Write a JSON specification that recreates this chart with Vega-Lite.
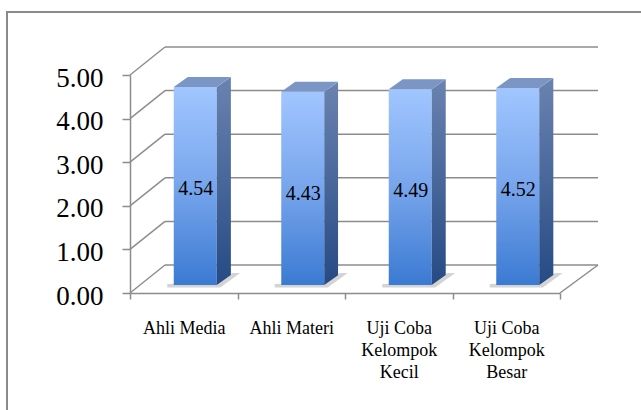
{
  "$schema": "https://vega.github.io/schema/vega-lite/v6.json",
  "width": 638,
  "height": 402,
  "autosize": {"type": "none"},
  "padding": {"left": 7, "top": 12, "right": -4, "bottom": -4},
  "background": "white",
  "config": {
    "view": {"stroke": "#8a8a8a", "strokeWidth": 2},
    "font": "Liberation Serif"
  },
  "datasets": {
    "scores": [
      {"kategori": "Ahli Media", "nilai": 4.54},
      {"kategori": "Ahli Materi", "nilai": 4.43},
      {"kategori": "Uji Coba Kelompok Kecil", "nilai": 4.49},
      {"kategori": "Uji Coba Kelompok Besar", "nilai": 4.52}
    ],
    "grid": [{"v": 0}, {"v": 1}, {"v": 2}, {"v": 3}, {"v": 4}, {"v": 5}]
  },
  "layer": [
    {
      "data": {"name": "scores"},
      "mark": {"type": "bar", "width": 43, "xOffset": 11.5, "yOffset": -8, "y2Offset": -8, "opacity": 0},
      "encoding": {
        "x": {
          "field": "kategori", "type": "nominal", "sort": null,
          "scale": {"type": "band", "domain": ["Ahli Media", "Ahli Materi", "Uji Coba Kelompok Kecil", "Uji Coba Kelompok Besar"], "range": [123, 553], "paddingInner": 0, "paddingOuter": 0},
          "axis": {
            "orient": "bottom", "offset": -121, "title": null, "tickBand": "extent",
            "labelAngle": 0, "labelFont": "Liberation Serif", "labelFontSize": 18, "labelColor": "#000000",
            "labelLineHeight": 22, "labelPadding": 20, "labelOverlap": false, "labelLimit": 0,
            "labelExpr": "split(replace(datum.label, ' Kelompok ', '|Kelompok|'), '|')",
            "tickSize": 6, "tickColor": "#8c8c8c", "tickWidth": 1.5,
            "domainColor": "#8c8c8c", "domainWidth": 1.5, "grid": false
          }
        },
        "y": {
          "field": "nilai", "type": "quantitative",
          "scale": {"domain": [0, 5], "range": [281, 63], "nice": false, "zero": true},
          "axis": {
            "orient": "left", "offset": -123, "title": null, "values": [0, 1, 2, 3, 4, 5], "format": ".2f",
            "labelFont": "Liberation Serif", "labelFontSize": 27, "labelColor": "#000000",
            "labelPadding": 19, "labelOffset": 3, "labelAlign": "right",
            "tickSize": 8, "tickColor": "#8c8c8c", "tickWidth": 1.5,
            "domainColor": "#8c8c8c", "domainWidth": 1.5, "grid": false
          }
        }
      }
    },
    {
      "data": {"name": "grid"},
      "mark": {"type": "rule", "color": "#8c8c8c", "strokeWidth": 1.5, "xOffset": 35, "x2Offset": 38, "yOffset": -28, "y2Offset": -28},
      "encoding": {
        "x": {"datum": "Ahli Media", "type": "nominal", "bandPosition": 0},
        "x2": {"datum": "Uji Coba Kelompok Besar", "bandPosition": 1},
        "y": {"field": "v", "type": "quantitative"},
        "y2": {"field": "v"}
      }
    },
    {
      "data": {"name": "grid"},
      "mark": {"type": "rule", "color": "#8c8c8c", "strokeWidth": 1.5, "x2Offset": 35, "y2Offset": -28},
      "encoding": {
        "x": {"datum": "Ahli Media", "type": "nominal", "bandPosition": 0},
        "x2": {"datum": "Ahli Media", "bandPosition": 0},
        "y": {"field": "v", "type": "quantitative"},
        "y2": {"field": "v"}
      }
    },
    {
      "data": {"name": "grid"},
      "transform": [{"filter": "datum.v == 0"}],
      "mark": {"type": "rule", "color": "#8c8c8c", "strokeWidth": 1.5, "x2Offset": 38, "y2Offset": -28},
      "encoding": {
        "x": {"datum": "Uji Coba Kelompok Besar", "type": "nominal", "bandPosition": 1},
        "x2": {"datum": "Uji Coba Kelompok Besar", "bandPosition": 1},
        "y": {"field": "v", "type": "quantitative"},
        "y2": {"field": "v"}
      }
    },
    {
      "data": {"name": "scores"},
      "mark": {"type": "point", "filled": true, "opacity": 0.55, "strokeWidth": 0, "size": 4, "xOffset": 11.5, "yOffset": -8, "fill": "#b0b0b0",
        "shape": "M-28,2.5L25,2.5L45,-12L37,-12L24,-3L-28,-1Z"},
      "encoding": {
        "x": {"field": "kategori", "type": "nominal"},
        "y": {"datum": 0, "type": "quantitative"}
      }
    },
    {
      "data": {"name": "scores"},
      "mark": {"type": "bar", "width": 43, "xOffset": 11.5, "yOffset": -8, "y2Offset": -8, "opacity": 1,
        "fill": {"gradient": "linear", "x1": 0, "y1": 0, "x2": 0, "y2": 1,
          "stops": [{"offset": 0, "color": "#a1c6ff"}, {"offset": 0.5, "color": "#77a5ec"}, {"offset": 1, "color": "#3b7ad2"}]}},
      "encoding": {
        "x": {"field": "kategori", "type": "nominal"},
        "y": {"field": "nilai", "type": "quantitative"}
      }
    },
    {
      "data": {"name": "scores"},
      "mark": {"type": "point", "filled": true, "opacity": 1, "strokeWidth": 0, "xOffset": 33, "yOffset": -8,
        "shape": "M0,0L0.0714,-0.051L0.0714,-1.051L0,-1Z",
        "fill": {"gradient": "linear", "x1": 0, "y1": 0, "x2": 0, "y2": 1,
          "stops": [{"offset": 0, "color": "#6a83b0"}, {"offset": 1, "color": "#264a84"}]}},
      "encoding": {
        "x": {"field": "kategori", "type": "nominal"},
        "y": {"datum": 0, "type": "quantitative"},
        "size": {"field": "nilai", "type": "quantitative", "scale": {"type": "pow", "exponent": 2, "domain": [0, 5], "range": [0, 190096]}, "legend": null}
      }
    },
    {
      "data": {"name": "scores"},
      "mark": {"type": "point", "filled": true, "opacity": 1, "strokeWidth": 0, "size": 4, "xOffset": 11.5, "yOffset": -8,
        "shape": "M-21.5,0L21.5,0L35.5,-10L-7.5,-10Z", "fill": "#7b96c4"},
      "encoding": {
        "x": {"field": "kategori", "type": "nominal"},
        "y": {"field": "nilai", "type": "quantitative"}
      }
    },
    {
      "data": {"name": "scores"},
      "mark": {"type": "text", "font": "Liberation Serif", "fontSize": 20, "color": "#000000", "align": "center", "baseline": "middle", "xOffset": 12, "yOffset": 94},
      "encoding": {
        "x": {"field": "kategori", "type": "nominal"},
        "y": {"field": "nilai", "type": "quantitative"},
        "text": {"field": "nilai", "type": "quantitative", "format": ".2f"}
      }
    }
  ]
}
